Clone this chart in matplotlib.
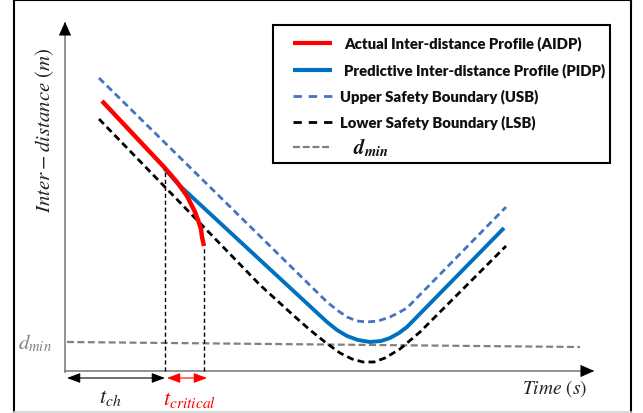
import matplotlib
matplotlib.use("Agg")
import matplotlib.pyplot as plt
from matplotlib.patches import Rectangle
from matplotlib.lines import Line2D

plt.rcParams["mathtext.fontset"] = "stix"
plt.rcParams["lines.scale_dashes"] = False

# ---- profiles (time in s, inter-distance in m) ----
usb_t = [3.4, 26.2, 27.2, 28.2, 29.2, 30.2, 31.3, 32.5, 33.3, 34.2, 44.1]
usb_d = [29.3, 6.9, 6.1, 5.4, 5.0, 4.9, 5.0, 5.4, 5.8, 6.3, 16.4]

pidp_t = [9.9, 11.3, 26.2, 27.2, 28.2, 29.3, 30.5, 31.6, 32.5, 33.4, 34.2, 43.9]
pidp_d = [20.3, 18.7, 4.9, 4.1, 3.5, 3.1, 2.9, 3.0, 3.3, 3.8, 4.4, 14.3]

lsb_t = [3.4, 19.5, 22.8, 24.5, 26.0, 27.5, 28.7, 29.8, 30.9, 32.0, 33.5, 35.5, 44.1]
lsb_d = [25.2, 8.6, 5.6, 4.1, 2.9, 1.8, 1.2, 0.9, 0.9, 1.3, 2.2, 3.9, 12.5]

aidp_t = [3.7, 9.9, 10.6, 11.2, 11.7, 12.2, 12.6, 13.0, 13.3, 13.6, 13.7, 13.9]
aidp_d = [27.0, 20.4, 19.6, 18.9, 18.2, 17.5, 16.7, 15.9, 15.1, 14.2, 13.4, 12.5]

dmin_t = [0.2, 51.5]
dmin_d = [2.9, 2.4]

t_ch = 10.0          # instant of change
t_end = 13.9         # end of the critical window
t_axis_end = 53.2
d_axis_end = 35.2

RED = "#FF0000"
BLUE = "#0070C0"
USB_C = "#4472C4"
GRAY = "#808080"

fig = plt.figure(figsize=(6.43, 4.14), dpi=100)
ax = fig.add_axes([0, 0, 1, 1])
ax.set_xlim(-6.5, 57.8)
ax.set_ylim(-4.2, 37.2)
ax.axis("off")

# outer frame
fr = dict(transform=fig.transFigure, color="black", lw=1.5)
fig.add_artist(Line2D([14 / 643, 14 / 643], [0.0024, 0.9976], **fr))
fig.add_artist(Line2D([14 / 643, 631 / 643], [0.9976, 0.9976], **fr))
fig.add_artist(Line2D([631 / 643, 631 / 643], [0.0024, 0.9976], **fr))
fig.add_artist(Line2D([14 / 643, 631 / 643], [0.0024, 0.0024],
                      transform=fig.transFigure, color="#d4d4d4", lw=1.2))

# axes with arrow heads
ax.plot([0, 0], [-0.1, d_axis_end - 1.0], color=GRAY, lw=1.2)
ax.plot([0, t_axis_end - 1.0], [0, 0], color=GRAY, lw=1.2)
head = dict(arrowstyle="-|>,head_length=0.9,head_width=0.4", color="black", lw=0.5)
ax.annotate("", xy=(0, d_axis_end), xytext=(0, d_axis_end - 1.2), arrowprops=head)
ax.annotate("", xy=(t_axis_end, 0), xytext=(t_axis_end - 1.2, 0), arrowprops=head)

# minimum distance
ax.plot(dmin_t, dmin_d, color=GRAY, lw=1.6, dashes=(5, 2.5))

# boundaries and profiles
ax.plot(usb_t, usb_d, color=USB_C, lw=2.0, dashes=(5, 3))
ax.plot(lsb_t, lsb_d, color="black", lw=2.0, dashes=(5, 3))
ax.plot(pidp_t, pidp_d, color=BLUE, lw=2.8, solid_capstyle="butt")
ax.plot(aidp_t, aidp_d, color=RED, lw=3.2, solid_capstyle="butt")

# time markers
ax.plot([t_ch, t_ch], [0, 20.2], color="black", lw=1.0, dashes=(3, 2))
ax.plot([t_end, t_end], [0, aidp_d[-1]], color="black", lw=1.0, dashes=(3, 2))
ax.annotate("", xy=(0.2, -0.7), xytext=(t_ch, -0.7),
            arrowprops=dict(arrowstyle="<|-|>,head_length=0.8,head_width=0.3",
                            color="black", lw=0.8, shrinkA=0, shrinkB=0))
ax.annotate("", xy=(t_ch + 0.2, -0.7), xytext=(t_end + 0.3, -0.7),
            arrowprops=dict(arrowstyle="<|-|>,head_length=0.8,head_width=0.3",
                            color=RED, lw=0.8, shrinkA=0, shrinkB=0))

ax.text(4.5, -2.6, r"$t_{ch}$", fontsize=16, ha="center", va="center", color="#222222")
ax.text(12.5, -2.8, r"$t_{critical}$", fontsize=16, ha="center", va="center", color=RED)
ax.text(-1.3, 2.9, r"$d_{min}$", fontsize=15, ha="right", va="center", color=GRAY)
ax.text(49.0, -1.7, r"$Time\ (s)$", fontsize=14, ha="center", va="center", color="#222222")
ax.text(-2.0, 24.2, r"$Inter - distance\ (m)$", fontsize=15, ha="center", va="center",
        rotation=90, color="#222222")

# legend box
ax.add_patch(Rectangle((20.8, 20.8), 33.7, 13.8, fill=False, edgecolor="black", lw=1.5))
rows = [32.8, 30.1, 27.5, 24.9, 22.4]
hx = [22.8, 26.7]
ax.plot(hx, [rows[0]] * 2, color=RED, lw=3.0, solid_capstyle="butt")
ax.plot(hx, [rows[1]] * 2, color=BLUE, lw=3.0, solid_capstyle="butt")
ax.plot(hx, [rows[2]] * 2, color=USB_C, lw=2.0, dashes=(6, 5))
ax.plot(hx, [rows[3]] * 2, color="black", lw=2.0, dashes=(6, 5))
ax.plot(hx, [rows[4]] * 2, color=GRAY, lw=1.6, dashes=(5, 2))

lab = dict(fontsize=10.7, fontweight="heavy", family="Lato", va="center", ha="left",
           color="#111111")
ax.text(27.9, rows[0], "Actual Inter-distance Profile (AIDP)", **lab)
ax.text(27.9, rows[1], "Predictive Inter-distance Profile (PIDP)", **lab)
ax.text(27.5, rows[2], "Upper Safety Boundary (USB)", **lab)
ax.text(27.5, rows[3], "Lower Safety Boundary (LSB)", **lab)
ax.text(28.8, rows[4], r"$\mathbfit{d}_{\mathbfit{min}}$", fontsize=15, va="center",
        ha="left", color="#111111")

fig.savefig("out.png", dpi=100)
